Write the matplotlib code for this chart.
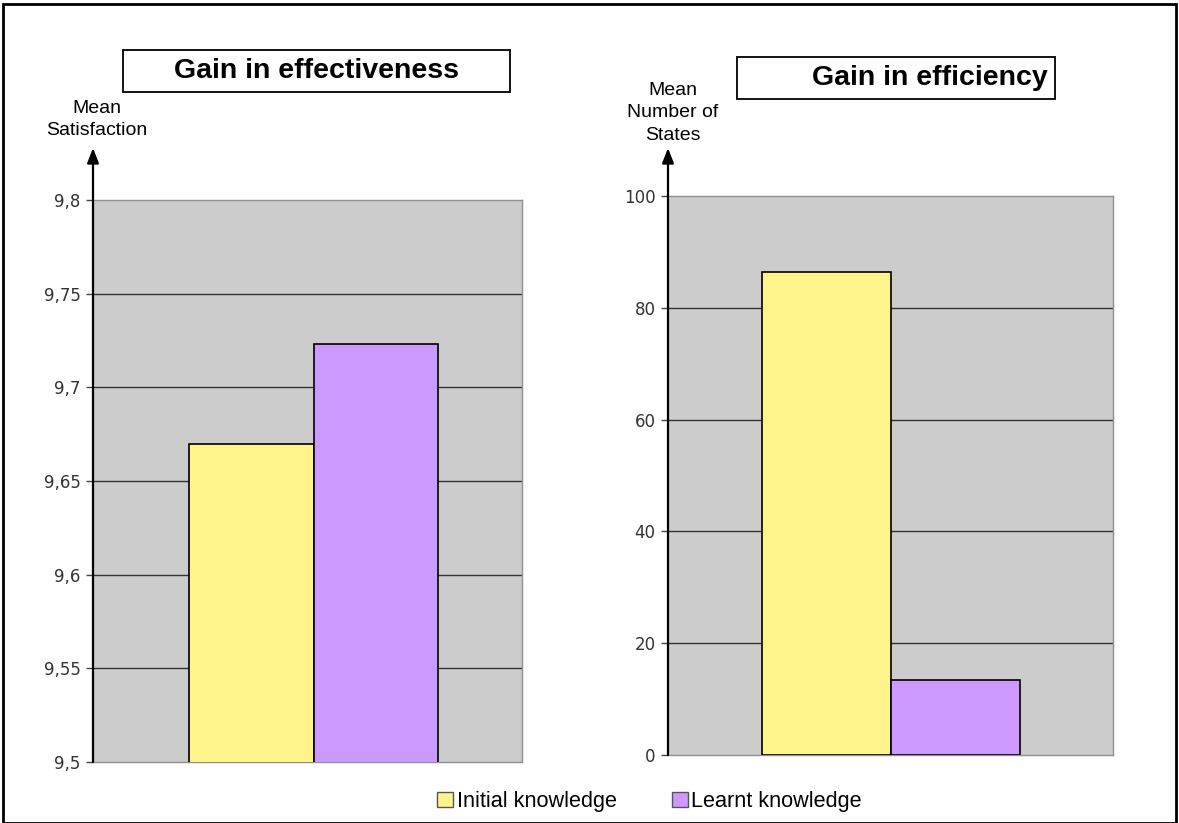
import matplotlib
matplotlib.use("Agg")
import matplotlib.pyplot as plt
from matplotlib.patches import Rectangle

# data
groups = ["Initial knowledge", "Learnt knowledge"]
satisfaction = [9.670, 9.723]
states = [86.4, 13.4]
sat_ticks = [9.5, 9.55, 9.6, 9.65, 9.7, 9.75, 9.8]
sat_labels = ["9,5", "9,55", "9,6", "9,65", "9,7", "9,75", "9,8"]
state_ticks = [0, 20, 40, 60, 80, 100]
colors = ["#fff48c", "#cc99ff"]

W, H = 1179, 823
fig = plt.figure(figsize=(W / 100, H / 100), dpi=100)
sans = ["Liberation Sans", "DejaVu Sans"]


def px_axes(x0, y0, x1, y1):
    # pixel box (top-left origin) -> figure axes
    return fig.add_axes([x0 / W, 1 - y1 / H, (x1 - x0) / W, (y1 - y0) / H])


def panel(box, vals, ylim, ticks, labels, xlim, ylab, title_box, title, title_x, arrow_top):
    ax = px_axes(*box)
    ax.set_facecolor("#cccccc")
    ax.bar([0, 1], vals, width=1, color=colors, edgecolor="black", linewidth=1.2, zorder=3)
    ax.set_xlim(*xlim)
    ax.set_ylim(*ylim)
    ax.set_yticks(ticks)
    ax.set_yticklabels(labels, fontsize=12, color="#333333")
    ax.set_xticks([])
    for t in ticks[1:-1]:
        ax.axhline(t, color="#333333", linewidth=1, zorder=1)
    for s in ["top", "right", "bottom"]:
        ax.spines[s].set_color("#909090")
        ax.spines[s].set_linewidth(1)
    ax.spines["left"].set_visible(False)
    ax.tick_params(axis="y", direction="out", length=5, width=1, color="#444444", pad=4)
    # vertical axis with arrow head
    h = box[3] - box[1]
    ax.annotate("", xy=(0, 1 + (box[1] - arrow_top) / h), xytext=(0, 0),
                xycoords="axes fraction", textcoords="axes fraction",
                arrowprops=dict(arrowstyle="-|>,head_length=0.9,head_width=0.35",
                                color="black", lw=1.6, shrinkA=0, shrinkB=0),
                annotation_clip=False, zorder=5)
    fig.text(ylab[0] / W, 1 - ylab[1] / H, ylab[2], ha="center", va="baseline",
             fontsize=14, family=sans, linespacing=ylab[3])
    x0, y0, x1, y1 = title_box
    fig.patches.append(Rectangle((x0 / W, 1 - y1 / H), (x1 - x0) / W, (y1 - y0) / H,
                                 transform=fig.transFigure, facecolor="white",
                                 edgecolor="black", linewidth=1.3))
    fig.text(title_x / W, 1 - (y0 + y1) / 2 / H, title, ha="center", va="center",
             fontsize=20.5, fontweight="bold", family=sans)
    return ax


panel((93, 200, 522, 762), satisfaction, (9.5, 9.8), sat_ticks, sat_labels,
      (-1.27, 2.17), (97, 135, "Mean\nSatisfaction", 1.35), (123, 50, 510, 92),
      "Gain in effectiveness", 316, 148)
panel((668, 196, 1113, 755), states, (0, 100), state_ticks, [str(t) for t in state_ticks],
      (-1.23, 2.22), (673, 140, "Mean\nNumber of\nStates", 1.44), (737, 57, 1055, 99),
      "Gain in efficiency", 930, 148)

# legend
for (sx, tx), name, c in zip([(437, 457), (672, 691)], groups, colors):
    fig.patches.append(Rectangle((sx / W, 1 - 807 / H), 16 / W, 15 / H,
                                 transform=fig.transFigure, facecolor=c,
                                 edgecolor="#555555", linewidth=1))
    fig.text(tx / W, 1 - 807 / H, name, ha="left", va="baseline", fontsize=15.6, family=sans)

# outer frame
fig.patches.append(Rectangle((3 / W, 0.5 / H), (W - 6) / W, (H - 4) / H,
                             transform=fig.transFigure, fill=False,
                             edgecolor="black", linewidth=2))

fig.savefig("out.png", dpi=100)
